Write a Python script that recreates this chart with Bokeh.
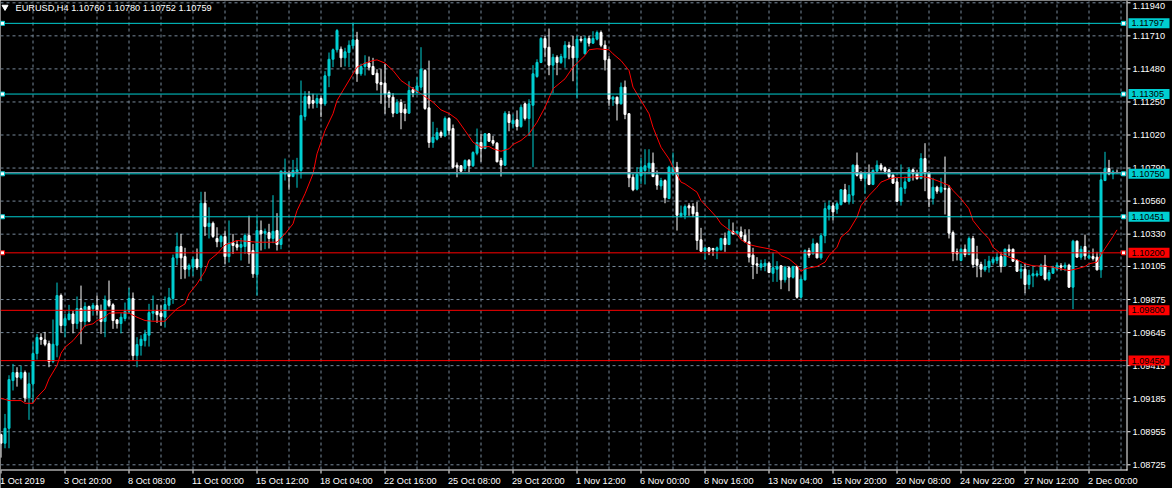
from bokeh.plotting import figure
from bokeh.models import ColumnDataSource, Range1d
from bokeh.core.properties import value
from bokeh.embed import file_html
from bokeh.resources import INLINE

symbol = "EURUSD,H4"

# H4 candles, oldest first
opens = [
    1.08935, 1.08875, 1.08979, 1.09311, 1.09367, 1.09330, 1.09367, 1.09191, 1.09288, 1.09499,
    1.09611, 1.09594, 1.09568, 1.09443, 1.09557, 1.09903, 1.09694, 1.09736, 1.09775, 1.09708,
    1.09812, 1.09722, 1.09826, 1.09812, 1.09833, 1.09798, 1.09722, 1.09868, 1.09838, 1.09734,
    1.09708, 1.09743, 1.09793, 1.09882, 1.09485, 1.09555, 1.09589, 1.09627, 1.09780, 1.09793,
    1.09780, 1.09752, 1.09835, 1.09882, 1.10165, 1.10244, 1.10174, 1.10086, 1.10100, 1.10156,
    1.10100, 1.10545, 1.10383, 1.10406, 1.10300, 1.10277, 1.10314, 1.10174, 1.10270, 1.10258,
    1.10239, 1.10244, 1.10321, 1.10216, 1.10049, 1.10355, 1.10336, 1.10341, 1.10300, 1.10355,
    1.10258, 1.10750, 1.10754, 1.10731, 1.10764, 1.10773, 1.11149, 1.11288, 1.11260, 1.11241,
    1.11274, 1.11237, 1.11432, 1.11547, 1.11613, 1.11617, 1.11557, 1.11594, 1.11641, 1.11682,
    1.11446, 1.11497, 1.11520, 1.11497, 1.11450, 1.11385, 1.11381, 1.11316, 1.11283, 1.11172,
    1.11246, 1.11200, 1.11172, 1.11335, 1.11316, 1.11353, 1.11469, 1.11209, 1.10968, 1.10991,
    1.11037, 1.11014, 1.11135, 1.11065, 1.10810, 1.10806, 1.10787, 1.10843, 1.10806, 1.10893,
    1.10968, 1.10926, 1.11028, 1.10982, 1.10963, 1.10843, 1.10810, 1.11163, 1.11098, 1.11126,
    1.11079, 1.11237, 1.11135, 1.11227, 1.11427, 1.11525, 1.11692, 1.11631, 1.11506, 1.11561,
    1.11525, 1.11557, 1.11645, 1.11636, 1.11557, 1.11687, 1.11585, 1.11692, 1.11659, 1.11687,
    1.11733, 1.11645, 1.11547, 1.11269, 1.11283, 1.11237, 1.11353, 1.11168, 1.10726, 1.10643,
    1.10736, 1.10773, 1.10792, 1.10824, 1.10740, 1.10666, 1.10703, 1.10578, 1.10750, 1.10796,
    1.10458, 1.10462, 1.10527, 1.10522, 1.10481, 1.10291, 1.10211, 1.10235, 1.10230, 1.10216,
    1.10221, 1.10300, 1.10258, 1.10350, 1.10332, 1.10346, 1.10323, 1.10277, 1.10184, 1.10124,
    1.10100, 1.10110, 1.10128, 1.10058, 1.10086, 1.10110, 1.10012, 1.10096, 1.10030, 1.10105,
    1.09891, 1.10012, 1.10216, 1.10193, 1.10263, 1.10165, 1.10319, 1.10504, 1.10527, 1.10504,
    1.10536, 1.10639, 1.10555, 1.10601, 1.10810, 1.10759, 1.10717, 1.10750, 1.10676, 1.10768,
    1.10810, 1.10792, 1.10778, 1.10740, 1.10694, 1.10559, 1.10648, 1.10699, 1.10778, 1.10754,
    1.10717, 1.10856, 1.10759, 1.10578, 1.10657, 1.10625, 1.10648, 1.10648, 1.10341, 1.10207,
    1.10147, 1.10225, 1.10188, 1.10300, 1.10156, 1.10119, 1.10082, 1.10100, 1.10133, 1.10147,
    1.10174, 1.10110, 1.10225, 1.10225, 1.10147, 1.10072, 1.10086, 1.09980, 1.10040, 1.10044,
    1.10044, 1.10114, 1.10017, 1.10058, 1.10086, 1.10110, 1.10100, 1.10114, 1.09961, 1.10281,
    1.10170, 1.10244, 1.10165, 1.10174, 1.10170, 1.10082, 1.10703, 1.10787, 1.10750, 1.10760,
]
highs = [
    1.08942, 1.09079, 1.09348, 1.09427, 1.09404, 1.09414, 1.09381, 1.09367, 1.09578, 1.09636,
    1.09640, 1.09650, 1.09589, 1.09736, 1.09993, 1.09917, 1.09775, 1.09838, 1.09798, 1.09896,
    1.09972, 1.09856, 1.09833, 1.09852, 1.09903, 1.09840, 1.09903, 1.10007, 1.09849, 1.09738,
    1.09780, 1.09854, 1.09956, 1.09924, 1.09613, 1.09627, 1.09664, 1.09845, 1.09903, 1.09840,
    1.09835, 1.09896, 1.09956, 1.10188, 1.10341, 1.10332, 1.10235, 1.10126, 1.10174, 1.10230,
    1.10625, 1.10625, 1.10517, 1.10418, 1.10378, 1.10327, 1.10355, 1.10425, 1.10332, 1.10286,
    1.10304, 1.10335, 1.10458, 1.10262, 1.10448, 1.10425, 1.10369, 1.10402, 1.10601, 1.10476,
    1.10773, 1.10856, 1.10773, 1.10847, 1.10861, 1.11399, 1.11325, 1.11325, 1.11307, 1.11302,
    1.11288, 1.11464, 1.11594, 1.11622, 1.11758, 1.11636, 1.11627, 1.11678, 1.11798, 1.11738,
    1.11516, 1.11575, 1.11566, 1.11557, 1.11478, 1.11478, 1.11515, 1.11330, 1.11311, 1.11269,
    1.11269, 1.11237, 1.11394, 1.11353, 1.11422, 1.11631, 1.11478, 1.11538, 1.11112, 1.11070,
    1.11051, 1.11149, 1.11144, 1.11093, 1.10829, 1.10810, 1.10850, 1.10853, 1.10907, 1.11065,
    1.11028, 1.11033, 1.11034, 1.11014, 1.10971, 1.10861, 1.11186, 1.11186, 1.11163, 1.11191,
    1.11232, 1.11246, 1.11269, 1.11506, 1.11547, 1.11701, 1.11710, 1.11761, 1.11585, 1.11575,
    1.11585, 1.11673, 1.11669, 1.11710, 1.11710, 1.11710, 1.11710, 1.11710, 1.11742, 1.11747,
    1.11747, 1.11678, 1.11571, 1.11293, 1.11288, 1.11385, 1.11399, 1.11172, 1.10750, 1.10796,
    1.10861, 1.10921, 1.10921, 1.10898, 1.10773, 1.10722, 1.10712, 1.10806, 1.10898, 1.10833,
    1.10529, 1.10536, 1.10545, 1.10545, 1.10555, 1.10374, 1.10239, 1.10241, 1.10235, 1.10244,
    1.10305, 1.10341, 1.10434, 1.10411, 1.10355, 1.10383, 1.10364, 1.10364, 1.10235, 1.10170,
    1.10152, 1.10156, 1.10140, 1.10202, 1.10142, 1.10114, 1.10110, 1.10105, 1.10110, 1.10110,
    1.10035, 1.10225, 1.10235, 1.10300, 1.10272, 1.10337, 1.10550, 1.10564, 1.10550, 1.10555,
    1.10643, 1.10680, 1.10671, 1.10815, 1.10898, 1.10768, 1.10773, 1.10815, 1.10782, 1.10843,
    1.10824, 1.10801, 1.10782, 1.10750, 1.10722, 1.10815, 1.10731, 1.10796, 1.10787, 1.10778,
    1.10893, 1.10963, 1.10768, 1.10722, 1.10667, 1.10722, 1.10870, 1.10671, 1.10355, 1.10230,
    1.10237, 1.10258, 1.10314, 1.10318, 1.10249, 1.10138, 1.10156, 1.10179, 1.10170, 1.10207,
    1.10207, 1.10230, 1.10258, 1.10230, 1.10156, 1.10124, 1.10124, 1.10082, 1.10110, 1.10077,
    1.10124, 1.10184, 1.10082, 1.10110, 1.10133, 1.10128, 1.10133, 1.10124, 1.10291, 1.10286,
    1.10249, 1.10327, 1.10216, 1.10230, 1.10207, 1.10764, 1.10903, 1.10847, 1.10778, 1.10780,
]
lows = [
    1.08775, 1.08840, 1.08840, 1.09242, 1.09269, 1.09318, 1.09163, 1.09038, 1.09156, 1.09457,
    1.09560, 1.09550, 1.09404, 1.09432, 1.09473, 1.09645, 1.09613, 1.09729, 1.09640, 1.09671,
    1.09564, 1.09683, 1.09717, 1.09763, 1.09763, 1.09636, 1.09613, 1.09821, 1.09671, 1.09673,
    1.09640, 1.09724, 1.09775, 1.09450, 1.09404, 1.09485, 1.09548, 1.09548, 1.09729, 1.09713,
    1.09692, 1.09680, 1.09798, 1.09845, 1.10114, 1.10017, 1.10021, 1.10035, 1.10040, 1.10082,
    1.10003, 1.10318, 1.10300, 1.10303, 1.10239, 1.10239, 1.10124, 1.10133, 1.10193, 1.10216,
    1.10147, 1.10193, 1.10124, 1.10026, 1.09902, 1.10216, 1.10225, 1.10230, 1.10267, 1.10216,
    1.10225, 1.10703, 1.10639, 1.10726, 1.10653, 1.10717, 1.11121, 1.11204, 1.11204, 1.11209,
    1.11144, 1.11223, 1.11353, 1.11492, 1.11594, 1.11492, 1.11497, 1.11492, 1.11622, 1.11390,
    1.11432, 1.11434, 1.11469, 1.11436, 1.11330, 1.11237, 1.11168, 1.11209, 1.11144, 1.11168,
    1.11060, 1.11116, 1.11168, 1.11283, 1.11307, 1.11330, 1.11195, 1.10931, 1.10931, 1.10982,
    1.11000, 1.11005, 1.11017, 1.10787, 1.10726, 1.10764, 1.10768, 1.10754, 1.10797, 1.10879,
    1.10834, 1.10921, 1.10973, 1.10945, 1.10829, 1.10731, 1.10804, 1.11046, 1.11065, 1.11051,
    1.11070, 1.11121, 1.11014, 1.10796, 1.11418, 1.11520, 1.11561, 1.11436, 1.11311, 1.11436,
    1.11514, 1.11488, 1.11547, 1.11394, 1.11274, 1.11664, 1.11580, 1.11636, 1.11655, 1.11678,
    1.11631, 1.11469, 1.11223, 1.11223, 1.11121, 1.11232, 1.11130, 1.10657, 1.10629, 1.10634,
    1.10680, 1.10676, 1.10750, 1.10726, 1.10639, 1.10639, 1.10545, 1.10573, 1.10738, 1.10355,
    1.10446, 1.10434, 1.10458, 1.10448, 1.10221, 1.10207, 1.10152, 1.10184, 1.10179, 1.10156,
    1.10216, 1.10207, 1.10254, 1.10327, 1.10327, 1.10295, 1.10272, 1.10133, 1.10017, 1.10054,
    1.10077, 1.10072, 1.10058, 1.09998, 1.09998, 1.09947, 1.09993, 1.09933, 1.10021, 1.09882,
    1.09882, 1.10007, 1.10165, 1.10188, 1.10161, 1.10152, 1.10267, 1.10425, 1.10425, 1.10472,
    1.10529, 1.10550, 1.10536, 1.10541, 1.10731, 1.10699, 1.10611, 1.10671, 1.10671, 1.10764,
    1.10768, 1.10750, 1.10717, 1.10680, 1.10555, 1.10529, 1.10611, 1.10694, 1.10703, 1.10708,
    1.10712, 1.10629, 1.10518, 1.10536, 1.10611, 1.10615, 1.10467, 1.10300, 1.10142, 1.10147,
    1.10140, 1.10170, 1.10184, 1.10096, 1.10030, 1.10030, 1.10068, 1.10063, 1.10119, 1.10124,
    1.10063, 1.10105, 1.10179, 1.10138, 1.10068, 1.10021, 1.09919, 1.09947, 1.09961, 1.10030,
    1.10040, 1.10007, 1.10003, 1.10054, 1.10077, 1.10077, 1.10072, 1.09957, 1.09808, 1.10165,
    1.10152, 1.10152, 1.10156, 1.10147, 1.10077, 1.10026, 1.10699, 1.10740, 1.10712, 1.10752,
]
closes = [
    1.08875, 1.08979, 1.09318, 1.09367, 1.09334, 1.09367, 1.09191, 1.09288, 1.09499, 1.09611,
    1.09597, 1.09564, 1.09443, 1.09564, 1.09903, 1.09694, 1.09743, 1.09775, 1.09708, 1.09812,
    1.09722, 1.09826, 1.09724, 1.09835, 1.09798, 1.09722, 1.09873, 1.09833, 1.09729, 1.09708,
    1.09752, 1.09793, 1.09882, 1.09485, 1.09562, 1.09599, 1.09636, 1.09784, 1.09793, 1.09770,
    1.09757, 1.09840, 1.09887, 1.10165, 1.10244, 1.10165, 1.10086, 1.10112, 1.10156, 1.10100,
    1.10545, 1.10383, 1.10406, 1.10314, 1.10277, 1.10314, 1.10174, 1.10268, 1.10251, 1.10239,
    1.10258, 1.10321, 1.10193, 1.10054, 1.10355, 1.10332, 1.10350, 1.10300, 1.10350, 1.10258,
    1.10768, 1.10764, 1.10731, 1.10773, 1.10778, 1.11156, 1.11288, 1.11237, 1.11241, 1.11274,
    1.11237, 1.11432, 1.11547, 1.11613, 1.11747, 1.11557, 1.11599, 1.11645, 1.11682, 1.11446,
    1.11497, 1.11520, 1.11492, 1.11441, 1.11381, 1.11371, 1.11307, 1.11283, 1.11172, 1.11246,
    1.11177, 1.11172, 1.11330, 1.11316, 1.11362, 1.11478, 1.11204, 1.10968, 1.11005, 1.11037,
    1.11014, 1.11135, 1.11051, 1.10796, 1.10796, 1.10768, 1.10843, 1.10806, 1.10898, 1.10968,
    1.10926, 1.11028, 1.10977, 1.10963, 1.10834, 1.10810, 1.11172, 1.11107, 1.11121, 1.11079,
    1.11213, 1.11135, 1.11237, 1.11446, 1.11525, 1.11692, 1.11627, 1.11506, 1.11561, 1.11525,
    1.11566, 1.11645, 1.11631, 1.11557, 1.11687, 1.11678, 1.11692, 1.11659, 1.11692, 1.11733,
    1.11645, 1.11543, 1.11269, 1.11283, 1.11237, 1.11353, 1.11163, 1.10722, 1.10639, 1.10745,
    1.10796, 1.10806, 1.10824, 1.10731, 1.10671, 1.10703, 1.10583, 1.10796, 1.10796, 1.10462,
    1.10476, 1.10522, 1.10513, 1.10472, 1.10286, 1.10211, 1.10235, 1.10211, 1.10221, 1.10235,
    1.10300, 1.10258, 1.10350, 1.10332, 1.10350, 1.10314, 1.10277, 1.10170, 1.10119, 1.10114,
    1.10124, 1.10128, 1.10063, 1.10096, 1.10105, 1.10012, 1.10100, 1.10030, 1.10105, 1.09891,
    1.10017, 1.10216, 1.10184, 1.10263, 1.10165, 1.10319, 1.10508, 1.10527, 1.10485, 1.10541,
    1.10639, 1.10555, 1.10606, 1.10810, 1.10740, 1.10717, 1.10754, 1.10676, 1.10773, 1.10810,
    1.10782, 1.10768, 1.10731, 1.10685, 1.10559, 1.10653, 1.10694, 1.10778, 1.10750, 1.10717,
    1.10856, 1.10754, 1.10578, 1.10657, 1.10629, 1.10657, 1.10643, 1.10337, 1.10197, 1.10193,
    1.10225, 1.10188, 1.10300, 1.10119, 1.10114, 1.10086, 1.10105, 1.10142, 1.10156, 1.10170,
    1.10105, 1.10225, 1.10211, 1.10142, 1.10072, 1.10086, 1.09980, 1.10044, 1.10054, 1.10054,
    1.10114, 1.10017, 1.10063, 1.10100, 1.10114, 1.10100, 1.10114, 1.09961, 1.10281, 1.10170,
    1.10225, 1.10179, 1.10179, 1.10161, 1.10082, 1.10708, 1.10787, 1.10750, 1.10764, 1.10759,
]

# moving average (red line): bar index -> value
ma_bars = [
    0, 2, 5, 6, 8, 9, 11, 12, 14, 15, 16, 18, 20, 21, 23, 24, 26, 27, 30, 32,
    34, 36, 38, 41, 42, 44, 46, 47, 49, 51, 52, 54, 56, 59, 64, 69, 71, 73, 74, 76,
    78, 79, 81, 83, 84, 86, 88, 89, 91, 93, 94, 96, 98, 100, 103, 105, 108, 110, 112, 114,
    116, 118, 120, 122, 123, 125, 127, 128, 130, 132, 134, 136, 138, 141, 143, 146, 147, 149, 152, 153,
    155, 157, 158, 160, 162, 163, 165, 167, 168, 170, 171, 174, 175, 177, 179, 180, 182, 184, 185, 187,
    189, 192, 194, 195, 197, 199, 200, 201, 203, 204, 206, 207, 209, 210, 212, 214, 215, 217, 219, 220,
    222, 224, 225, 227, 230, 232, 234, 237, 238, 240, 242, 243, 245, 247, 248, 250, 252, 254, 256, 258,
    261, 263, 266, 267, 269, 271, 272, 274, 275, 276, 277, 278, 279,
]
ma_values = [
    1.09188, 1.09172, 1.09172, 1.09153, 1.09153, 1.09195, 1.09253, 1.09323, 1.09416, 1.09501,
    1.09543, 1.09589, 1.09654, 1.09694, 1.09706, 1.09729, 1.09752, 1.09780, 1.09783, 1.09780,
    1.09752, 1.09729, 1.09724, 1.09724, 1.09757, 1.09811, 1.09845, 1.09915, 1.09984, 1.10072,
    1.10147, 1.10193, 1.10255, 1.10286, 1.10274, 1.10274, 1.10332, 1.10402, 1.10494, 1.10611,
    1.10750, 1.10889, 1.11051, 1.11168, 1.11260, 1.11353, 1.11446, 1.11492, 1.11520, 1.11538,
    1.11543, 1.11520, 1.11469, 1.11399, 1.11342, 1.11307, 1.11248, 1.11195, 1.11170, 1.11130,
    1.11051, 1.10970, 1.10935, 1.10940, 1.10924, 1.10907, 1.10924, 1.10954, 1.10982, 1.11028,
    1.11109, 1.11213, 1.11342, 1.11411, 1.11492, 1.11573, 1.11613, 1.11620, 1.11613, 1.11585,
    1.11538, 1.11469, 1.11353, 1.11260, 1.11168, 1.11074, 1.10935, 1.10854, 1.10796, 1.10692,
    1.10680, 1.10622, 1.10564, 1.10506, 1.10444, 1.10402, 1.10360, 1.10328, 1.10291, 1.10258,
    1.10244, 1.10228, 1.10211, 1.10181, 1.10158, 1.10112, 1.10072, 1.10089, 1.10100, 1.10105,
    1.10135, 1.10181, 1.10239, 1.10309, 1.10355, 1.10448, 1.10529, 1.10599, 1.10657, 1.10692,
    1.10715, 1.10726, 1.10722, 1.10726, 1.10731, 1.10722, 1.10703, 1.10669, 1.10634, 1.10576,
    1.10506, 1.10425, 1.10355, 1.10298, 1.10239, 1.10193, 1.10170, 1.10152, 1.10124, 1.10110,
    1.10107, 1.10100, 1.10082, 1.10077, 1.10089, 1.10105, 1.10124, 1.10135, 1.10188, 1.10230,
    1.10272, 1.10314, 1.10360,
]

# horizontal price levels
cyan_levels = [1.11797, 1.11305, 1.10750, 1.10451]
red_levels = [1.10200, 1.09800, 1.09450]
selected_levels = [1.11797, 1.11305, 1.10750, 1.10451, 1.10200]

# price scale tick labels
price_ticks = [1.11940, 1.11710, 1.11480, 1.11250, 1.11020, 1.10790, 1.10560, 1.10330,
               1.10105, 1.09875, 1.09645, 1.09415, 1.09185, 1.08955, 1.08725]

# time scale labels, one every 16 bars
date_labels = ["1 Oct 2019", "3 Oct 20:00", "8 Oct 08:00", "11 Oct 00:00", "15 Oct 12:00",
               "18 Oct 04:00", "22 Oct 16:00", "25 Oct 08:00", "29 Oct 20:00", "1 Nov 12:00",
               "6 Nov 00:00", "8 Nov 16:00", "13 Nov 04:00", "15 Nov 20:00", "20 Nov 08:00",
               "24 Nov 22:00", "27 Nov 12:00", "2 Dec 00:00"]
bars_per_label = 16
bars_per_vgrid = 8

# ---- layout (pixels) ----
W, H = 1172, 488
CHART_W, CHART_H = 1126, 469          # candle area; price scale to the right, time scale below
BAR_PX = 4
TOP_TICK_Y, BOTTOM_TICK_Y = 2.3, 464.3

BULL = "#00CED1"
BEAR = "#FFFFFF"
CYAN = "#00CED1"
RED = "#FF0000"
GRID = "#778899"
FONT = value("Liberation Sans")
FSIZE = value("9.2px")

px_per_price = (BOTTOM_TICK_Y - TOP_TICK_Y) / (price_ticks[0] - price_ticks[-1])
x_start = -0.125
y_end = price_ticks[0] + TOP_TICK_Y / px_per_price


def sx(px):
    """horizontal pixel -> bar coordinate"""
    return x_start + px / BAR_PX


def sy(py):
    """vertical pixel (from top) -> price coordinate"""
    return y_end - py / px_per_price


p = figure(width=W, height=H, x_range=Range1d(x_start, sx(W)), y_range=Range1d(sy(H), y_end),
           x_axis_type=None, y_axis_type=None, toolbar_location=None, output_backend="svg",
           min_border=0, background_fill_color="black", border_fill_color="black",
           outline_line_color=None)

n = len(opens)
chart_right = sx(CHART_W)
chart_bottom = sy(CHART_H)

# dashed grid
vgrid = list(range(bars_per_vgrid, n + 1, bars_per_vgrid))
p.segment(x0=vgrid, y0=[chart_bottom] * len(vgrid), x1=vgrid, y1=[y_end] * len(vgrid),
          line_color=GRID, line_width=1, line_dash="3 3")
p.segment(x0=[x_start] * len(price_ticks), y0=price_ticks, x1=[chart_right] * len(price_ticks),
          y1=price_ticks, line_color=GRID, line_width=1, line_dash="3 3")

# candles
idx = list(range(n))
colors = [BULL if c > o else BEAR for o, c in zip(opens, closes)]
src = ColumnDataSource(dict(
    x=idx, high=highs, low=lows,
    top=[max(o, c) for o, c in zip(opens, closes)],
    bottom=[min(o, c) for o, c in zip(opens, closes)],
    color=colors))
p.segment(x0="x", y0="high", x1="x", y1="low", line_color="color", line_width=1, source=src)
p.vbar(x="x", width=0.5, top="top", bottom="bottom", fill_color="color",
       line_color="color", line_width=1, source=src)

# moving average
p.line(ma_bars, ma_values, line_color=RED, line_width=1)

# bid line and horizontal levels
bid = closes[-1]
p.segment(x0=[x_start], y0=[bid], x1=[chart_right], y1=[bid], line_color=GRID, line_width=1)
all_levels = cyan_levels + red_levels
level_colors = [CYAN] * len(cyan_levels) + [RED] * len(red_levels)
p.segment(x0=[x_start] * len(all_levels), y0=all_levels, x1=[chart_right] * len(all_levels),
          y1=all_levels, line_color=level_colors, line_width=1)

# selection handles at both ends of the selected levels
sel_colors = [CYAN if lv in cyan_levels else RED for lv in selected_levels]
p.scatter(x=[sx(2)] * len(selected_levels) + [sx(CHART_W - 3)] * len(selected_levels),
          y=selected_levels * 2, marker="square", size=4, fill_color="white",
          line_color=sel_colors * 2, line_width=1)

# price scale (the topmost label is nudged down so it stays inside the window)
p.segment(x0=[sx(CHART_W + 0.5)], y0=[sy(0)], x1=[sx(CHART_W + 0.5)], y1=[sy(CHART_H + 1)],
          line_color="white", line_width=1)
p.segment(x0=[sx(CHART_W + 1)] * len(price_ticks), y0=price_ticks,
          x1=[sx(CHART_W + 4)] * len(price_ticks), y1=price_ticks,
          line_color="white", line_width=1)
label_nudge = [3.5 if t == max(price_ticks) else 0 for t in price_ticks]
p.text(x=[sx(CHART_W + 6)] * len(price_ticks), y=price_ticks, y_offset=label_nudge,
       text=[f"{t:.5f}" for t in price_ticks], text_color="white", text_font=FONT,
       text_font_size=FSIZE, text_align="left", text_baseline="middle")

# time scale
p.segment(x0=[x_start], y0=[sy(CHART_H + 0.5)], x1=[sx(CHART_W + 1)], y1=[sy(CHART_H + 0.5)],
          line_color="white", line_width=1)
date_ticks = [i * bars_per_label for i in range(len(date_labels))]
p.segment(x0=date_ticks, y0=[sy(CHART_H + 1)] * len(date_ticks), x1=date_ticks,
          y1=[sy(CHART_H + 4)] * len(date_ticks), line_color="white", line_width=1)
p.text(x=date_ticks, y=[sy(CHART_H + 11)] * len(date_ticks), text=date_labels,
       x_offset=-1, text_color="white", text_font=FONT, text_font_size=FSIZE,
       text_align="left", text_baseline="middle")

# level tags on the price scale
p.rect(x=[sx(CHART_W + 22.5)] * len(all_levels), y=all_levels, width=41, height=10,
       width_units="screen", height_units="screen", fill_color=level_colors, line_color=None)
p.text(x=[sx(CHART_W + 5)] * len(all_levels), y=all_levels,
       text=[f"{lv:.5f}" for lv in all_levels], text_color="black", text_font=FONT,
       text_font_size=FSIZE, text_align="left", text_baseline="middle")

# header: symbol, timeframe and last bar OHLC
header = f"{symbol}  {opens[-1]:.5f} {highs[-1]:.5f} {lows[-1]:.5f} {closes[-1]:.5f}"
p.text(x=[sx(15)], y=[sy(7.5)], text=[header], text_color="white", text_font=FONT,
       text_font_size=FSIZE, text_align="left", text_baseline="middle")
p.scatter(x=[sx(4.5)], y=[sy(6.5)], marker="inverted_triangle", size=6,
          fill_color="white", line_color="white")

open("out.html", "w").write(file_html(p, INLINE))
